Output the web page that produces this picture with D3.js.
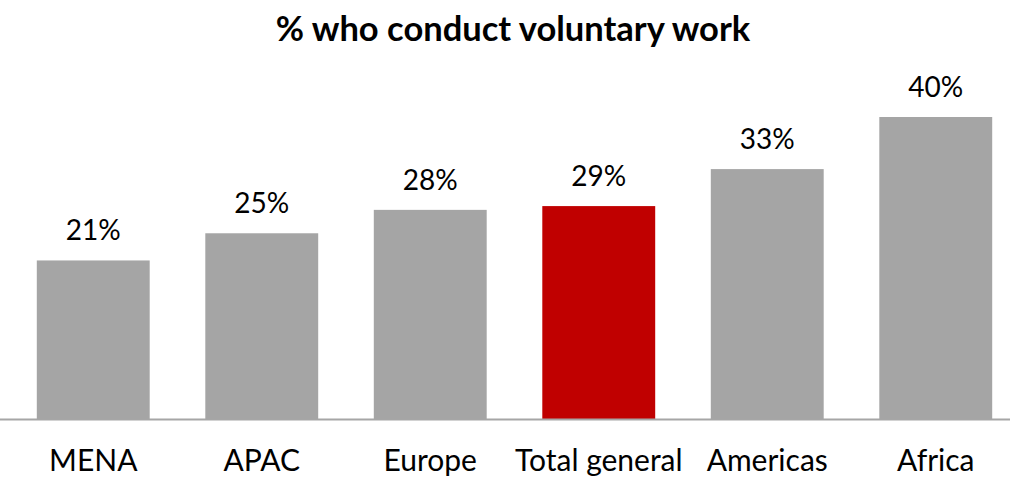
<!DOCTYPE html>
<html>
<head>
<meta charset="utf-8">
<script src="https://cdn.jsdelivr.net/npm/d3@7"></script>
<style>
  body { margin: 0; background: #fff; }
  svg { display: block; }
</style>
</head>
<body>
<div id="chart"></div>
<script>
// data
var regions = ["MENA", "APAC", "Europe", "Total general", "Americas", "Africa"];
var shares = [0.21, 0.246, 0.277, 0.282, 0.331, 0.40];
var shareLabels = ["21%", "25%", "28%", "29%", "33%", "40%"];
var highlight = "Total general";

var width = 1010, height = 477;
var font = "Lato, 'Open Sans', sans-serif";

var svg = d3.select("#chart")
    .append("svg")
    .attr("width", width)
    .attr("height", height);

var x = d3.scaleBand()
    .domain(regions)
    .range([9, 1020])
    .paddingInner(0.33)
    .paddingOuter(0.165);

var y = d3.scaleLinear()
    .domain([0, 0.40])
    .range([419, 117]);

svg.append("text")
    .attr("x", 513)
    .attr("y", 41)
    .attr("text-anchor", "middle")
    .attr("font-family", font)
    .attr("font-weight", "bold")
    .attr("font-size", 34.5)
    .attr("fill", "#000")
    .text("% who conduct voluntary work");

var bars = svg.selectAll(".bar")
    .data(regions)
    .enter()
    .append("g")
    .attr("class", "bar");

bars.append("rect")
    .attr("x", function(d) { return x(d); })
    .attr("y", function(d, i) { return y(shares[i]); })
    .attr("width", x.bandwidth())
    .attr("height", function(d, i) { return y(0) - y(shares[i]); })
    .attr("fill", function(d) { return d == highlight ? "#C00000" : "#A5A5A5"; });

bars.append("text")
    .attr("x", function(d) { return x(d) + x.bandwidth() / 2; })
    .attr("y", function(d, i) { return y(shares[i]) - 20; })
    .attr("text-anchor", "middle")
    .attr("font-family", font)
    .attr("font-size", 28)
    .attr("fill", "#000")
    .text(function(d, i) { return shareLabels[i]; });

// category axis
var axis = svg.append("g")
    .attr("transform", "translate(0," + y(0) + ")")
    .call(d3.axisBottom(x).tickSize(0).tickPadding(31));

axis.select(".domain")
    .attr("d", "M0,0.5H" + width)
    .attr("stroke", "#A6A6A6")
    .attr("stroke-width", 2);

axis.selectAll(".tick text")
    .attr("font-family", font)
    .attr("font-size", 30)
    .attr("fill", "#000");
</script>
</body>
</html>
